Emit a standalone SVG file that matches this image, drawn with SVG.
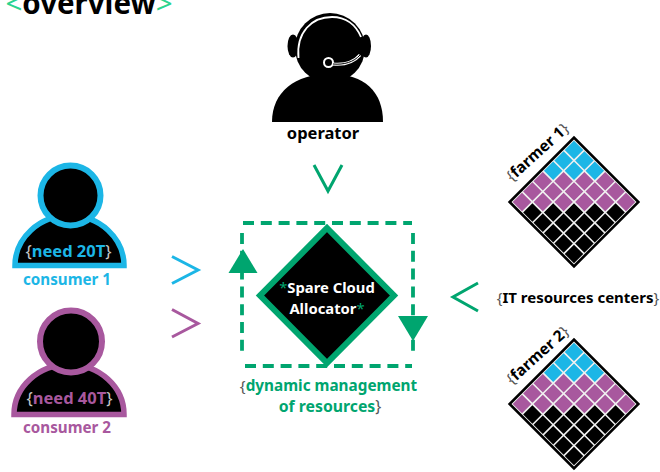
<svg xmlns="http://www.w3.org/2000/svg" width="660" height="472" viewBox="0 0 660 472">
<style>
text{font-family:"Noto Sans","Open Sans","Liberation Sans",sans-serif;font-weight:700;text-anchor:middle}
.brace{font-weight:400;fill:#555}
.lb{fill:#c8c8c8;font-weight:400}
.blue{fill:#1cb6e6}.purple{fill:#a8589e}.green{fill:#00a56f}.black{fill:#000}
.chev{fill:none;stroke-width:3}
.dash{fill:none;stroke:#00a56f;stroke-width:3.800;stroke-dasharray:11 6.800}
</style>
<defs>
<g id="grid" transform="rotate(45)">
<rect x="-45.5" y="-45.5" width="91" height="91" fill="#f0f0f0" stroke="#000" stroke-width="2.6"/>
<path class="blue" d="M-43.3-43.3h13.1v13.1h-13.1zM-28.6-43.3h13.1v13.1h-13.1zM-13.9-43.3h13.1v13.1h-13.1zM-43.3-28.6h13.1v13.1h-13.1zM-28.6-28.6h13.1v13.1h-13.1zM-43.3-13.9h13.1v13.1h-13.1z"/>
<path class="purple" d="M.8-43.3h13.1v13.1h-13.1zM15.5-43.3h13.1v13.1h-13.1zM30.2-43.3h13.1v13.1h-13.1zM-13.9-28.6h13.1v13.1h-13.1zM.8-28.6h13.1v13.1h-13.1zM15.5-28.6h13.1v13.1h-13.1zM-28.6-13.9h13.1v13.1h-13.1zM-13.9-13.9h13.1v13.1h-13.1zM.8-13.9h13.1v13.1h-13.1zM-43.3.8h13.1v13.1h-13.1zM-28.6.8h13.1v13.1h-13.1zM-13.9.8h13.1v13.1h-13.1zM-43.3 15.5h13.1v13.1h-13.1zM-28.6 15.5h13.1v13.1h-13.1zM-43.3 30.2h13.1v13.1h-13.1z"/>
<path class="black" d="M30.2-28.6h13.1v13.1h-13.1zM15.5-13.9h13.1v13.1h-13.1zM30.2-13.9h13.1v13.1h-13.1zM.8.8h13.1v13.1h-13.1zM15.5.8h13.1v13.1h-13.1zM30.2.8h13.1v13.1h-13.1zM-13.9 15.5h13.1v13.1h-13.1zM.8 15.5h13.1v13.1h-13.1zM15.5 15.5h13.1v13.1h-13.1zM30.2 15.5h13.1v13.1h-13.1zM-28.6 30.2h13.1v13.1h-13.1zM-13.9 30.2h13.1v13.1h-13.1zM.8 30.2h13.1v13.1h-13.1zM15.5 30.2h13.1v13.1h-13.1zM30.2 30.2h13.1v13.1h-13.1z"/>
</g>
</defs>
<g id="title"><text x="89" y="14" font-size="29.500"><tspan fill="#2bd48f" font-weight="400">&lt;</tspan>overview<tspan fill="#2bd48f" font-weight="400">&gt;</tspan></text></g>
<g id="operator">
<ellipse cx="293" cy="46" rx="5.500" ry="11.500"/><ellipse cx="366" cy="46" rx="5" ry="11.500"/>
<circle cx="330" cy="48" r="35"/>
<path d="M272 122C272 92 295 74 330 74S383 92 383 122Z"/>
<path d="M298.500 58C296 32 312 17 332 17C346 17 356 25 361 37" fill="none" stroke="#fff" stroke-width="1.800"/>
<circle cx="328.500" cy="62.500" r="4.500" fill="none" stroke="#fff" stroke-width="2"/>
<path d="M333 64C344 65 354 62 360 55" fill="none" stroke="#fff" stroke-width="3"/>
<path d="M333 64C344 65 354 62 360 55" fill="none" stroke="#000" stroke-width="1"/>
<text x="323" y="139" font-size="16.500">operator</text>
</g>
<g id="consumer1">
<path d="M15 265.500A54.500 50 0 0 1 124 265.500Z" stroke="#1cb6e6" stroke-width="5.500"/>
<circle cx="70.500" cy="195.500" r="30" stroke="#1cb6e6" stroke-width="6"/>
<text x="68.500" y="257" font-size="16.500" class="blue"><tspan class="lb">{</tspan>need 20T<tspan class="lb">}</tspan></text>
<text x="67" y="285" font-size="15.200" class="blue">consumer 1</text>
</g>
<g id="consumer2">
<path d="M14 414.500A55 50 0 0 1 124 414.500Z" stroke="#a8589e" stroke-width="5.500"/>
<circle cx="71" cy="341.500" r="31" stroke="#a8589e" stroke-width="6"/>
<text x="69.500" y="404" font-size="16.500" class="purple"><tspan class="lb">{</tspan>need 40T<tspan class="lb">}</tspan></text>
<text x="67" y="433" font-size="15.200" class="purple">consumer 2</text>
</g>
<g id="allocator">
<path d="M327 228L394 295.500L327 363L260 295.500Z" stroke="#00a56f" stroke-width="6"/>
<text x="327" y="293" font-size="14.800" fill="#fff"><tspan class="green" font-weight="400">*</tspan>Spare Cloud</text>
<text x="327" y="314" font-size="14.800" fill="#fff">Allocator<tspan class="green" font-weight="400">*</tspan></text>
</g>
<g id="connectors">
<path class="dash" d="M243 223H412"/>
<path class="dash" d="M413 233V356"/>
<path class="dash" d="M245 366H412"/>
<path class="dash" d="M242 233V355"/>
<path class="green" d="M243 249L257.500 273H228.500Z"/>
<path class="green" d="M413 341L398 316H428Z"/>
<path class="chev" stroke="#1cb6e6" d="M172 256.500L198 270L172 283.500"/>
<path class="chev" stroke="#a8589e" d="M172 309.500L198 323.500L172 337"/>
<path class="chev" stroke="#00a56f" d="M314 165L328 191L342 165"/>
<path class="chev" stroke="#00a56f" d="M478 283L453 297L478 311"/>
</g>
<g id="dynamic">
<text x="328.500" y="391" font-size="15.300" class="green"><tspan class="brace">{</tspan>dynamic management</text>
<text x="330" y="412" font-size="15.800" class="green">of resources<tspan class="brace">}</tspan></text>
</g>
<g id="farmer1">
<use href="#grid" transform="translate(574 202)"/>
<text transform="translate(541 156) rotate(-42)" font-size="15.500"><tspan class="brace">{</tspan>farmer 1<tspan class="brace">}</tspan></text>
</g>
<g id="farmer2">
<use href="#grid" transform="translate(574 404)"/>
<text transform="translate(541 359) rotate(-42)" font-size="15.500"><tspan class="brace">{</tspan>farmer 2<tspan class="brace">}</tspan></text>
</g>
<g id="it"><text x="578" y="303" font-size="15"><tspan class="brace">{</tspan>IT resources centers<tspan class="brace">}</tspan></text></g>
</svg>
